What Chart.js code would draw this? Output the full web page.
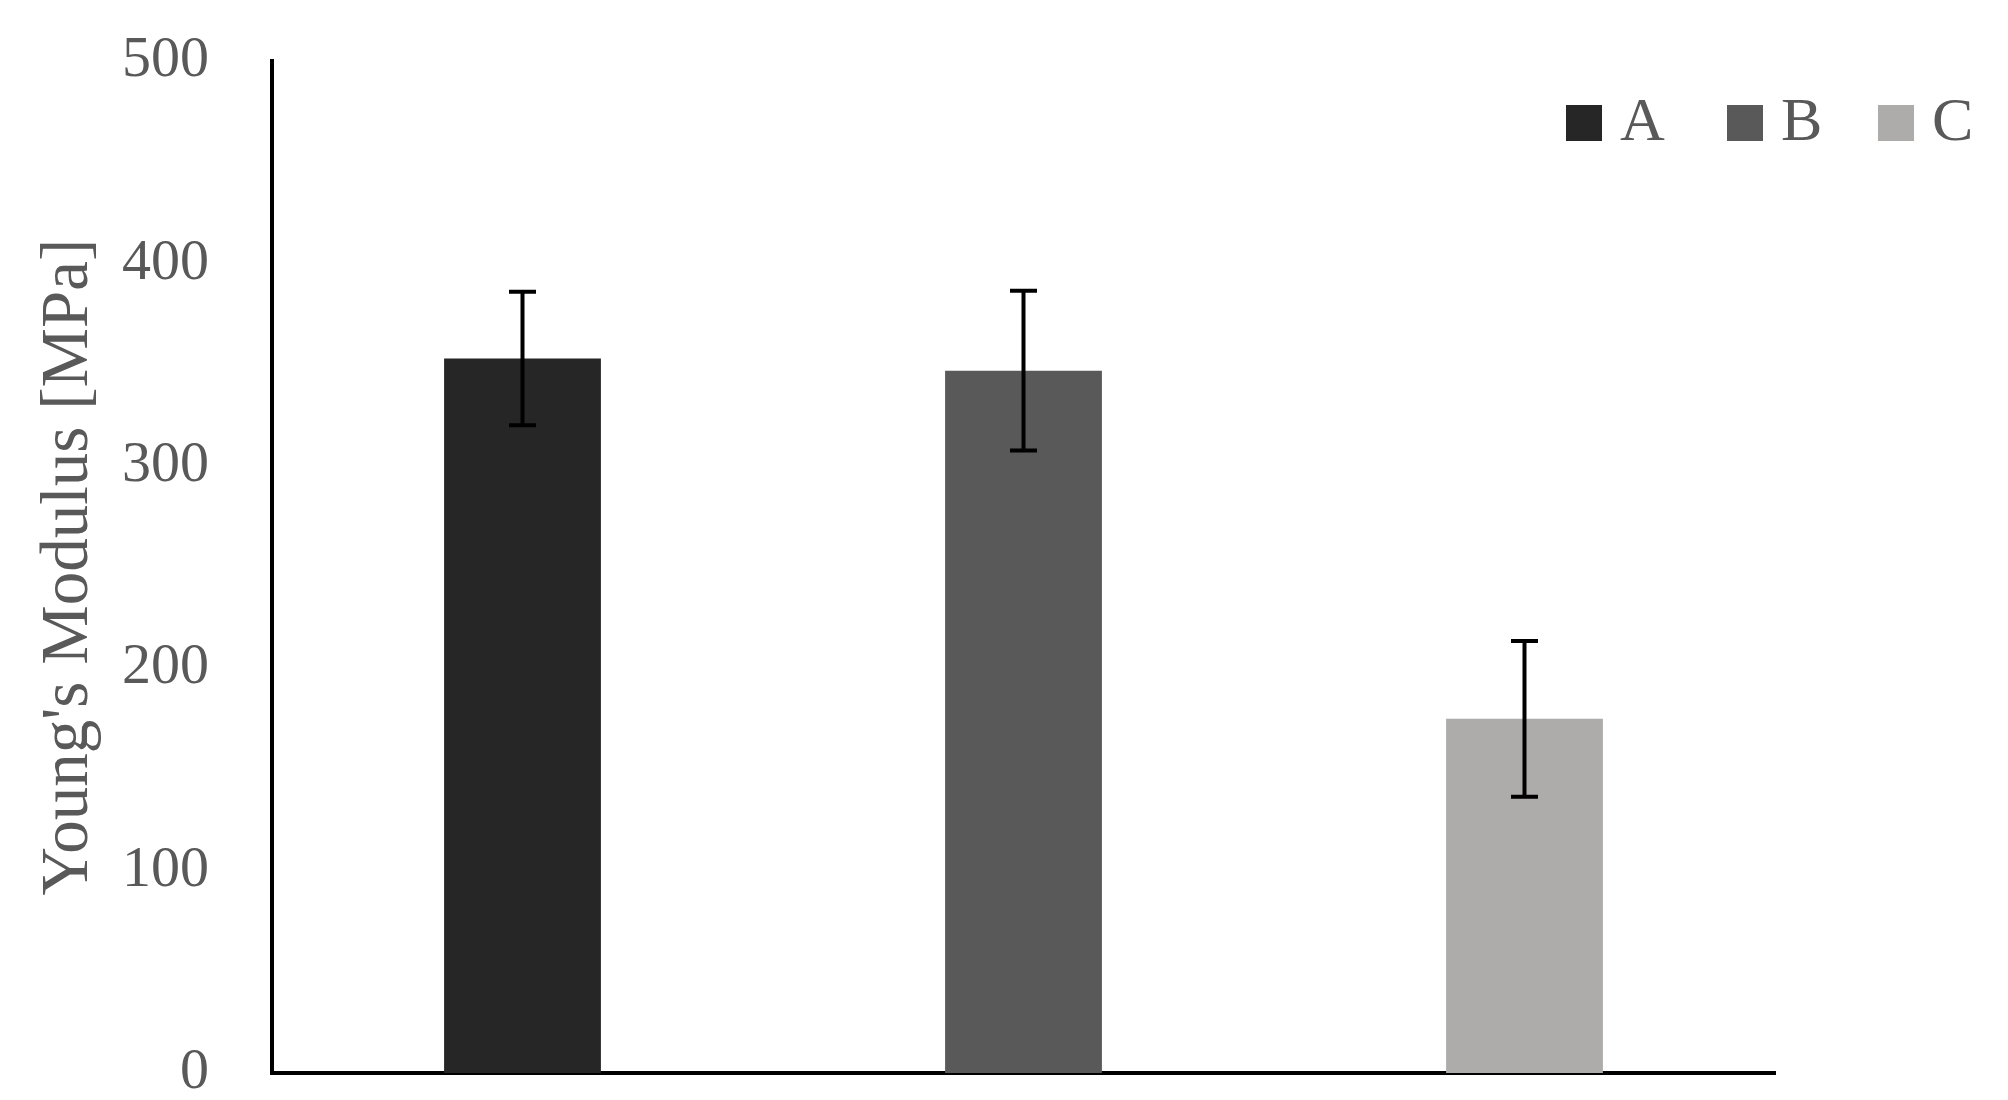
<!DOCTYPE html>
<html>
<head>
<meta charset="utf-8">
<script src="https://cdn.jsdelivr.net/npm/chart.js@4.4.1/dist/chart.umd.min.js"></script>
<style>
    html, body { margin: 0; padding: 0; background: #ffffff; }
    #wrap { width: 2008px; height: 1100px; }
</style>
</head>
<body>
<div id="wrap"><canvas id="modulus" width="2008" height="1100"></canvas></div>
<script>
// data
const categories = ["A", "B", "C"];
const modulus = [353, 347, 175];
const modulusErr = [33, 39.5, 38.5];
const colores = ["#262626", "#595959", "#aeabab"];
const yTicks = [0, 100, 200, 300, 400, 500];

const fuente = "'Liberation Serif', 'DejaVu Serif', serif";
const gris = "#595959";

// one dataset per group so each bar keeps its own legend entry
const datasets = categories.map((name, i) => ({
    label: name,
    data: categories.map((c, j) => (j === i ? modulus[i] : null)),
    errors: categories.map((c, j) => (j === i ? modulusErr[i] : null)),
    backgroundColor: colores[i],
    borderWidth: 0,
    categoryPercentage: 1,
    barPercentage: 0.313,
    skipNull: true,
}));

const errorBars = {
    id: "errorBars",
    afterDatasetsDraw(chart) {
        const ctx = chart.ctx;
        const y = chart.scales.y;
        ctx.save();
        ctx.strokeStyle = "#000000";
        ctx.lineWidth = 4;
        chart.data.datasets.forEach((ds, i) => {
            const meta = chart.getDatasetMeta(i);
            meta.data.forEach((bar, j) => {
                const v = ds.data[j];
                const e = ds.errors[j];
                if (v == null || e == null) return;
                const top = y.getPixelForValue(v + e);
                const bot = y.getPixelForValue(v - e);
                const half = 13.5;
                ctx.beginPath();
                ctx.moveTo(bar.x, top);
                ctx.lineTo(bar.x, bot);
                ctx.moveTo(bar.x - half, top);
                ctx.lineTo(bar.x + half, top);
                ctx.moveTo(bar.x - half, bot);
                ctx.lineTo(bar.x + half, bot);
                ctx.stroke();
            });
        });
        ctx.restore();
    },
};

// legend sits inside the plot, top right, so draw it by hand
const leyenda = {
    id: "leyenda",
    afterDraw(chart) {
        const ctx = chart.ctx;
        const boxX = [1566, 1727, 1878];
        ctx.save();
        ctx.font = "62px " + fuente;
        ctx.textBaseline = "middle";
        ctx.textAlign = "left";
        chart.data.datasets.forEach((ds, i) => {
            ctx.fillStyle = ds.backgroundColor;
            ctx.fillRect(boxX[i], 105, 36, 36);
            ctx.fillStyle = gris;
            ctx.fillText(ds.label, boxX[i] + 54, 124);
        });
        ctx.restore();
    },
};

new Chart(document.getElementById("modulus").getContext("2d"), {
    type: "bar",
    data: { labels: categories, datasets: datasets },
    options: {
        responsive: false,
        animation: false,
        layout: { padding: { left: 0, top: 61, right: 233, bottom: 27 } },
        plugins: {
            legend: { display: false },
            tooltip: { enabled: false },
        },
        scales: {
            x: {
                grid: { display: false, drawTicks: false },
                border: { display: true, color: "#000000", width: 4 },
                ticks: { display: false },
                afterFit: (scale) => { scale.height = 0; },
            },
            y: {
                min: 0,
                max: 500,
                afterBuildTicks: (scale) => {
                    scale.ticks = yTicks.map((v) => ({ value: v }));
                },
                grid: { display: false, drawTicks: false },
                border: { display: true, color: "#000000", width: 4 },
                ticks: {
                    color: gris,
                    font: { family: fuente, size: 58 },
                    padding: 63,
                },
                title: {
                    display: true,
                    text: "Young's Modulus [MPa]",
                    color: gris,
                    font: { family: fuente, size: 67 },
                    padding: { top: 29, bottom: 0 },
                },
                afterFit: (scale) => {
                    scale.width = 272;
                    scale.paddingTop = 0;
                    scale.paddingBottom = 0;
                },
            },
        },
    },
    plugins: [errorBars, leyenda],
});
</script>
</body>
</html>
